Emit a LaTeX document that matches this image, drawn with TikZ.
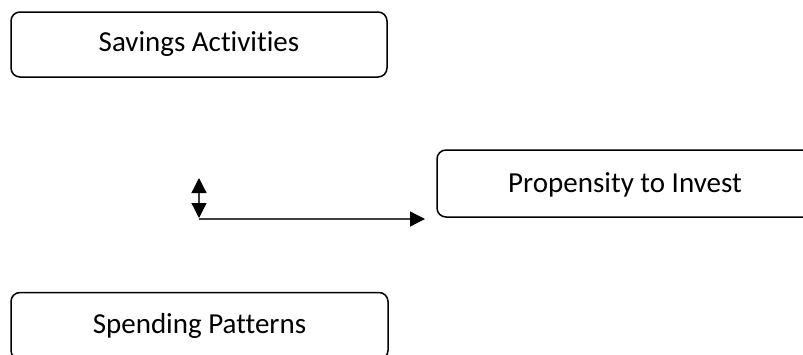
\documentclass[tikz,border=0pt]{standalone}
\usepackage{fontspec}
\setmainfont[Ligatures=NoCommon]{Carlito}
\usetikzlibrary{arrows.meta}

\begin{document}
\begin{tikzpicture}[x=1pt, y=-1pt,
  box/.style={draw, line width=1.5pt, rounded corners=9pt, minimum height=65pt, inner sep=0pt},
  boxtext/.style={font=\fontsize{29}{34}\selectfont},
  tip/.tip={Triangle[length=15pt, width=15pt, color=black]}]
\useasboundingbox (0,0) rectangle (803,354);

% Boxes
\node[box, boxtext, minimum width=376pt] (savings) at (199, 44.5) {Savings Activities};
\node[box, boxtext, minimum width=377pt, minimum height=67pt] (spending) at (199.5, 326) {Spending Patterns};
\node[box, minimum width=400pt, minimum height=67pt] (propensity) at (637, 183.5) {};
\node[boxtext] (proplabel) at (625, 185) {Propensity to Invest};

% Arrow points
\coordinate (up) at (199, 178);
\coordinate (down) at (199, 218);
\coordinate (corner) at (199, 219);
\coordinate (end) at (425, 219);

% Arrows
\draw[line width=1.3pt, darkgray, tip-tip] (up) -- (down);
\draw[line width=1.3pt, darkgray, -tip] (corner) -- (end);

\end{tikzpicture}
\end{document}
